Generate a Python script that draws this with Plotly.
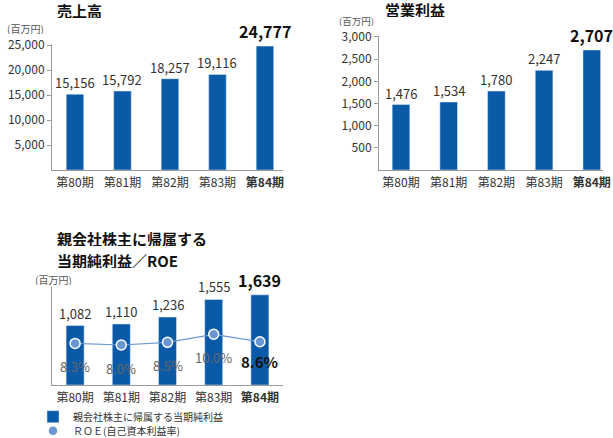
import plotly.graph_objects as go

W, H = 613, 438

periods = ["第80期", "第81期", "第82期", "第83期", "第84期"]
period_ticks = ["第80期", "第81期", "第82期", "第83期", "<b>第84期</b>"]

sales = [15156, 15792, 18257, 19116, 24777]
op_income = [1476, 1534, 1780, 2247, 2707]
net_income = [1082, 1110, 1236, 1555, 1639]
roe = [8.3, 8.0, 8.5, 10.0, 8.6]

sales_ticks = [5000, 10000, 15000, 20000, 25000]
op_ticks = [500, 1000, 1500, 2000, 2500, 3000]

BAR = "#0b5aa8"
ROE_C = "#6a97d4"
TXT = "#333333"
AX = "#9a9a9a"
FONT = "Noto Sans CJK JP"


def px_x(p):
    return p / W


def px_y(p):
    return 1 - p / H


fig = go.Figure()

fig.add_trace(go.Bar(x=periods, y=sales, width=0.37, marker_color=BAR,
                     xaxis="x", yaxis="y", showlegend=False, hoverinfo="x+y"))
fig.add_trace(go.Bar(x=periods, y=op_income, width=0.37, marker_color=BAR,
                     xaxis="x2", yaxis="y2", showlegend=False, hoverinfo="x+y"))
fig.add_trace(go.Bar(x=periods, y=net_income, width=0.39, marker_color=BAR,
                     xaxis="x3", yaxis="y3", name="親会社株主に帰属する当期純利益",
                     showlegend=True, legend="legend"))
fig.add_trace(go.Scatter(x=periods, y=roe, mode="lines",
                         line=dict(color=ROE_C, width=1.2),
                         xaxis="x3", yaxis="y4", showlegend=False, hoverinfo="skip"))
fig.add_trace(go.Scatter(x=periods, y=roe, mode="markers",
                         marker=dict(color=ROE_C, size=10, line=dict(color="white", width=1.5)),
                         xaxis="x3", yaxis="y4", name="ＲＯＥ(自己資本利益率)",
                         showlegend=True, legend="legend2"))

xcommon = dict(type="category", showline=True, linecolor=AX, linewidth=1, ticks="",
               showgrid=False, zeroline=False, tickfont=dict(size=12, color=TXT, family=FONT),
               tickvals=periods, ticktext=period_ticks, fixedrange=True, automargin=False,
               ticklabelstandoff=2)
ycommon = dict(showline=True, linecolor=AX, linewidth=1, showgrid=False, zeroline=False,
               ticks="outside", ticklen=4, tickcolor=AX, tickformat=",",
               tickfont=dict(size=12, color=TXT, family=FONT), fixedrange=True,
               automargin=False)

legcommon = dict(xanchor="left", yanchor="middle", font=dict(size=10, color=TXT, family=FONT),
                 bgcolor="rgba(0,0,0,0)", itemwidth=30, borderwidth=0)

fig.update_layout(
    width=W, height=H, margin=dict(l=0, r=0, t=0, b=0, autoexpand=False),
    paper_bgcolor="white", plot_bgcolor="white",
    font=dict(family=FONT, color=TXT),
    xaxis=dict(xcommon, domain=[px_x(52), px_x(283)], anchor="y", range=[-0.484, 4.38]),
    yaxis=dict(ycommon, domain=[px_y(170), px_y(44)], anchor="x", range=[0, 25200],
               tickvals=sales_ticks),
    xaxis2=dict(xcommon, domain=[px_x(379), px_x(603)], anchor="y2", range=[-0.461, 4.235]),
    yaxis2=dict(ycommon, domain=[px_y(170), px_y(36)], anchor="x2", range=[0, 3022],
                tickvals=op_ticks),
    xaxis3=dict(xcommon, domain=[px_x(52), px_x(283)], anchor="y3", range=[-0.5, 4.5]),
    yaxis3=dict(ycommon, domain=[px_y(385), px_y(287)], anchor="x3", range=[0, 1782],
                ticks="", showticklabels=False),
    yaxis4=dict(overlaying="y3", range=[0.52, 18.84], visible=False, fixedrange=True),
    legend=dict(legcommon, x=px_x(33), y=px_y(416.7)),
    legend2=dict(legcommon, x=px_x(33), y=px_y(430.7)),
    showlegend=True,
)

ann = []
# titles
for txt, x, y in [("売上高", 55, 9.5), ("営業利益", 383, 8.5),
                  ("親会社株主に帰属する", 55, 238), ("当期純利益／ROE", 55, 260)]:
    ann.append(dict(text=f"<b>{txt}</b>", xref="paper", yref="paper", x=px_x(x), y=px_y(y),
                    xanchor="left", yanchor="middle", showarrow=False, height=16,
                    font=dict(size=15, color="#111111", family=FONT)))
# unit labels
for x, y, fs in [(5, 29, 10), (337, 20.5, 9.5), (33, 279, 10)]:
    ann.append(dict(text="(百万円)", xref="paper", yref="paper", x=px_x(x), y=px_y(y),
                    xanchor="left", yanchor="middle", showarrow=False, height=11,
                    font=dict(size=fs, color="#555555", family=FONT)))


def value_labels(vals, xr, yr, fmt, shift_n, shift_b):
    out = []
    n = len(vals)
    for i, (c, v) in enumerate(zip(periods, vals)):
        last = i == n - 1
        out.append(dict(text=(f"<b>{fmt(v)}</b>" if last else fmt(v)), xref=xr, yref=yr,
                        x=c, y=v, xanchor="center", yanchor="bottom", showarrow=False,
                        yshift=shift_b if last else shift_n,
                        font=dict(size=16 if last else 13, color="#111111" if last else TXT,
                                  family=FONT)))
    return out


ann += value_labels(sales, "x", "y", lambda v: f"{v:,}", 0, 1)
ann += value_labels(op_income, "x2", "y2", lambda v: f"{v:,}", 0, 1)
ann += value_labels(net_income, "x3", "y3", lambda v: f"{v:,}", 1, 1)

for i, (c, v) in enumerate(zip(periods, roe)):
    last = i == len(roe) - 1
    ann.append(dict(text=(f"<b>{v:.1f}%</b>" if last else f"{v:.1f}%"), xref="x3", yref="y4",
                    x=c, y=v, xanchor="center", yanchor="middle", showarrow=False,
                    yshift=-20 if last else -23.5,
                    font=dict(size=15 if last else 13, color="#111111" if last else "#666666",
                              family=FONT)))

fig.update_layout(annotations=ann)

fig.write_html("out.html", config={"displayModeBar": False},
               post_script="document.body.style.margin='0';")
